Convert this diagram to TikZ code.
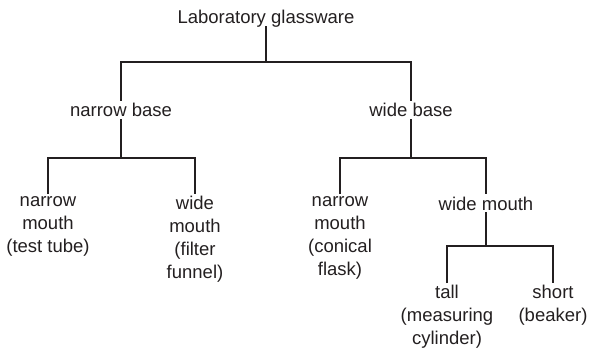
\documentclass[tikz,border=0pt]{standalone}
\usepackage{fontspec}
\setmainfont{Liberation Sans}
\definecolor{ink}{RGB}{35,31,32}
\begin{document}
\begin{tikzpicture}[x=1pt,y=-1pt,
  lbl/.style={font=\fontsize{18.5}{23}\selectfont, text=ink, inner xsep=1pt, inner ysep=2pt, align=center},
  single/.style={lbl, text height=14pt, text depth=0pt, anchor=base},
  multi/.style={lbl, anchor=north, execute at begin node={\rule{0pt}{14pt}}},
  conn/.style={draw=ink, line width=1.1pt}]
\useasboundingbox (0,0) rectangle (589,350);
% nodes
\node[single] (root) at (266,24) {Laboratory glassware};
\node[single] (nb) at (121,117) {narrow base};
\node[single] (wb) at (411,117) {wide base};
\node[multi] (nm1) at (48,194) {narrow\\mouth\\(test tube)};
\node[multi] (wm1) at (195,194) {wide\\mouth\\(filter\\funnel)};
\node[multi] (nm2) at (340,194) {narrow\\mouth\\(conical\\flask)};
\node[single] (wm2) at (486,210) {wide mouth};
\node[multi] (tall) at (447,283) {tall\\(measuring\\cylinder)};
\node[multi] (short) at (553,283) {short\\(beaker)};
% junctions
\coordinate (j1) at (266,62);
\coordinate (j2) at (121,158);
\coordinate (j3) at (411,158);
\coordinate (j4) at (486,246);
% connectors
\draw[conn] (root.south) -- (j1);
\draw[conn] (nb.north) |- (j1) -| (wb.north);
\draw[conn] (nb.south) -- (j2);
\draw[conn] (nm1.north) |- (j2) -| (wm1.north);
\draw[conn] (wb.south) -- (j3);
\draw[conn] (nm2.north) |- (j3) -| (wm2.north);
\draw[conn] (wm2.south) -- (j4);
\draw[conn] (tall.north) |- (j4) -| (short.north);
\end{tikzpicture}
\end{document}
